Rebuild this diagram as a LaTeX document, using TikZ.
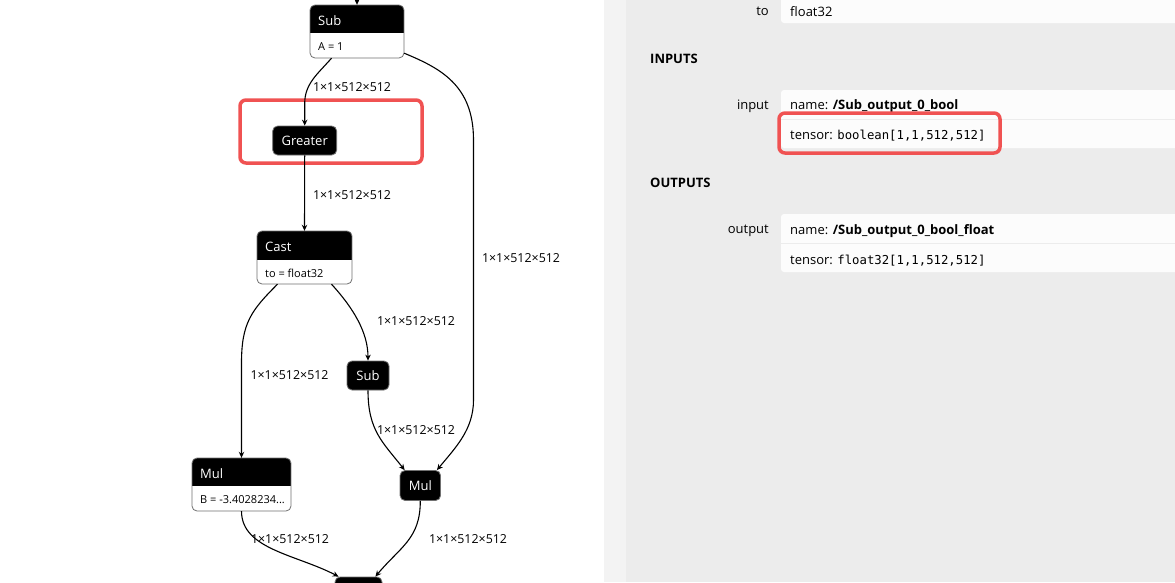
\documentclass[tikz,border=0pt]{standalone}
\usepackage{fontspec}
\setmainfont{Open Sans}
\newfontfamily\monof{DejaVu Sans Mono}
\usetikzlibrary{arrows.meta,calc}
\definecolor{panelbg}{HTML}{ECECEC}
\definecolor{stripbg}{HTML}{F3F3F3}
\definecolor{valbg}{HTML}{FCFCFC}
\definecolor{sepc}{HTML}{ECECEC}
\definecolor{hl}{HTML}{F05252}
\definecolor{nodeborder}{HTML}{707070}
\newcommand\attrop[8]{%
  \node[attrbox, minimum width={#4-#2}, minimum height={#5-#3}] (#1) at ({(#2+#4)/2},{(#3+#5)/2}) {};
  \begin{scope}
    \clip[rounded corners=5pt] (#2,#3) rectangle (#4,#5);
    \fill[black] (#2,#3) rectangle (#4,#6);
  \end{scope}
  \draw[draw=nodeborder, line width=0.8pt, rounded corners=5pt] (#2,#3) rectangle (#4,#5);
  \node[anchor=west, text=white, titlefont, inner sep=0] (#1-t) at ({#2+8},{(#3+#6)/2+1.5}) {#7};
  \node[anchor=west, attrfont, inner sep=0] (#1-a) at ({#2+8},{(#6+#5)/2+1}) {#8};
}
\begin{document}
\begin{tikzpicture}[x=1pt,y=-1pt,
  titlefont/.style={font=\fontsize{13}{15}\selectfont},
  attrfont/.style={font=\fontsize{11}{13}\selectfont},
  lbl/.style={font=\fontsize{12.4}{15}\selectfont, inner sep=0},
  opnode/.style={fill=black, draw=nodeborder, line width=0.8pt, rounded corners=5pt, text=white, titlefont, minimum height=29pt, inner sep=0},
  attrbox/.style={fill=white, rounded corners=5pt, inner sep=0},
  edge/.style={draw=black, line width=1.1pt, -{Stealth[length=6pt,width=5.5pt,inset=2pt]}},
  ptxt/.style={font=\fontsize{13}{15}\selectfont, inner sep=0},
  phead/.style={font=\fontsize{13}{15}\selectfont\bfseries, inner sep=0},
  hlbox/.style={draw=hl, line width=3.5pt, rounded corners=6pt},
  valbox/.style={fill=valbg, rounded corners=3pt}
]
\useasboundingbox (0,0) rectangle (1175,582);
\fill[white] (0,0) rectangle (604,582);

% ---------- right panel ----------
\fill[stripbg] (604,0) rectangle (626,582);
\fill[panelbg] (626,0) rectangle (1175,582);
\fill[valbox] (781,-6) rectangle (1182,23);
\fill[valbox] (781,90) rectangle (1182,148);
\draw[sepc, line width=1pt] (781,119.5) -- (1175,119.5);
\fill[valbox] (781,214) rectangle (1182,272);
\draw[sepc, line width=1pt] (781,243.5) -- (1175,243.5);

\node[ptxt, anchor=east] (lto) at (769,11.5) {to};
\node[ptxt, anchor=west] (vto) at (790,11.5) {float32};
\node[phead, anchor=west] (hin) at (650,58.5) {INPUTS};
\node[ptxt, anchor=east] (lin) at (769,106.5) {input};
\node[ptxt, anchor=west] (nin) at (790,106.5) {name: \textbf{/Sub\_output\_0\_bool}};
\node[ptxt, anchor=west] (tin) at (790,135.5) {tensor: {\monof\fontsize{12.3}{15}\selectfont boolean[1,1,512,512]}};
\node[phead, anchor=west] (hout) at (650,182.5) {OUTPUTS};
\node[ptxt, anchor=east] (lout) at (769,230.5) {output};
\node[ptxt, anchor=west] (nout) at (790,231.5) {name: \textbf{/Sub\_output\_0\_bool\_float}};
\node[ptxt, anchor=west] (tout) at (790,260.5) {tensor: {\monof\fontsize{12.3}{15}\selectfont float32[1,1,512,512]}};
\draw[hlbox] (779,113) rectangle (1000,153);

% ---------- graph ----------
\attrop{sub1}{310}{5}{404}{58}{33}{Sub}{A = 1}
\attrop{cast}{257}{231}{352}{284}{260}{Cast}{to = float32}
\attrop{mul1}{192}{458}{291}{511}{486}{Mul}{B = -3.4028234...}
\node[opnode, minimum width=64pt] (greater) at (304.7,140.5) {\raisebox{-1pt}{Greater}};
\node[opnode, minimum width=42pt] (sub2) at (368,375.5) {\raisebox{-1pt}{Sub}};
\node[opnode, minimum width=40.5pt, minimum height=30pt] (mul2) at (420.3,485.5) {\raisebox{-1pt}{Mul}};
\node[opnode, minimum width=47pt, minimum height=30pt] (bottom) at (358.5,592) {};
\coordinate (in0) at (357,-6);

\draw[hlbox] (240,100) rectangle (422,163);

\draw[edge] (in0) -- (sub1.north);
\draw[edge] ($(sub1.south)+(-25.5,0)$) .. controls +(-14,16) and +(0,-20) .. ($(greater.north)+(0,-22)$) -- (greater.north);
\draw[edge] (greater.south) -- (cast.north);
\draw[edge] ($(cast.south)+(27,0)$) .. controls +(22,24) and +(0,-28) .. (sub2.north);
\draw[edge] ($(cast.south)+(-27,0)$) .. controls +(-26,26) and +(0,-40) .. ($(mul1.north)+(0,-95)$) -- (mul1.north);
\draw[edge] ($(sub1.south east)+(0,-5)$) .. controls +(36,15) and +(0,-55) .. (473.5,140) -- (473.5,400) .. controls +(0,30) and +(18,-22) .. ($(mul2.north east)+(-4,0)$);
\draw[edge] (sub2.south) .. controls +(0,40) and +(-22,-28) .. ($(mul2.north west)+(5,0)$);
\draw[edge] (mul1.south) .. controls +(0,38) and +(-42,-22) .. ($(bottom.north west)+(4,0)$);
\draw[edge] (mul2.south) .. controls +(0,38) and +(25,-30) .. ($(bottom.north east)+(-7,0)$);

\node[lbl] (l1) at (352,87) {1×1×512×512};
\node[lbl] (l2) at (352,195) {1×1×512×512};
\node[lbl] (l3) at (416,321) {1×1×512×512};
\node[lbl] (l4) at (289.5,375) {1×1×512×512};
\node[lbl] (l5) at (521,258) {1×1×512×512};
\node[lbl] (l6) at (416,430) {1×1×512×512};
\node[lbl] (l7) at (290,539) {1×1×512×512};
\node[lbl] (l8) at (468,539) {1×1×512×512};
\end{tikzpicture}
\end{document}
